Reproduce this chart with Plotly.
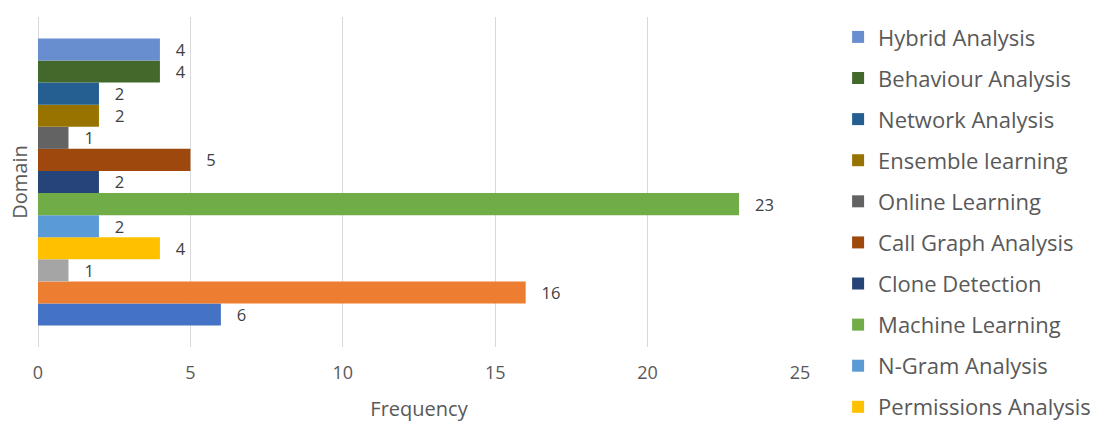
import plotly.graph_objects as go

# Data (bottom-to-top drawing order; legend shows top bar first)
names = ["Signature Analysis", "Static Analysis", "Dynamic Analysis",
         "Permissions Analysis", "N-Gram Analysis", "Machine Learning",
         "Clone Detection", "Call Graph Analysis", "Online Learning",
         "Ensemble learning", "Network Analysis", "Behaviour Analysis",
         "Hybrid Analysis"]
values = [6, 16, 1, 4, 2, 23, 2, 5, 1, 2, 2, 4, 4]
colors = ["#4472C4", "#ED7D31", "#A5A5A5", "#FFC000", "#5B9BD5", "#70AD47",
          "#264478", "#9E480E", "#636363", "#997300", "#255E91", "#43682B",
          "#698ED0"]
in_legend = [False, False, False] + [True] * 10
category = ["Domain"]
x_ticks = [0, 5, 10, 15, 20, 25]

FONT = "Open Sans, Noto Sans, sans-serif"

fig = go.Figure()
n_tr = len(names)
for i, (n, v, c, show) in enumerate(zip(names, values, colors, in_legend)):
    fig.add_trace(go.Bar(
        y=category, x=[v], name=n, orientation="h",
        marker=dict(color=c, line=dict(width=0)),
        texttemplate="   %{x}", textposition="outside",
        textfont=dict(size=18, color="#404040", family=FONT),
        cliponaxis=False, showlegend=show, legendgroup=n,
        legendrank=n_tr - i,
    ))

fig.update_layout(
    width=1101, height=424,
    margin=dict(l=38, r=301, t=17, b=77, autoexpand=False),
    paper_bgcolor="white", plot_bgcolor="white",
    barmode="group", bargap=0.13, bargroupgap=0,
    font=dict(family=FONT, color="#595959", size=18),
    legend=dict(
        x=1.05, y=0.962, xanchor="left", yanchor="top", yref="container",
        traceorder="grouped", tracegroupgap=9.5,
        font=dict(size=22, color="#595959", family=FONT),
        itemwidth=30, maxheight=1000,
    ),
    xaxis=dict(
        range=[0, 25], tickvals=x_ticks, showgrid=True, gridcolor="#d9d9d9",
        gridwidth=1, zeroline=True, zerolinecolor="#d9d9d9", zerolinewidth=1,
        showline=False, ticks="", ticklabelstandoff=13,
        tickfont=dict(size=18, color="#595959"),
        title=dict(text="Frequency", font=dict(size=20, color="#595959"), standoff=18),
    ),
    yaxis=dict(
        showticklabels=False, showgrid=False, zeroline=False, showline=False,
        title=dict(text="Domain", font=dict(size=20, color="#595959"), standoff=4),
    ),
)

fig.write_html("out.html")
